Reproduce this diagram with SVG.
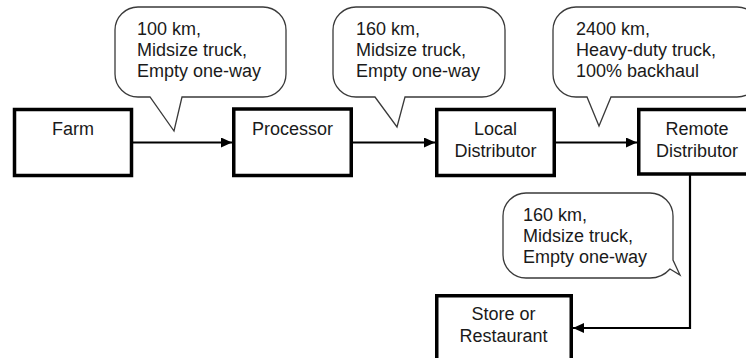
<svg xmlns="http://www.w3.org/2000/svg" width="746" height="358" viewBox="0 0 746 358">
  <defs>
    <style>
      .box { fill: #fff; stroke: #000; stroke-width: 3.5; }
      .bubble { fill: #fff; stroke: #3a3a3a; stroke-width: 1.3; stroke-linejoin: miter; }
      .conn { fill: none; stroke: #000; stroke-width: 2.2; }
      text { font-family: "Liberation Sans", Arial, sans-serif; font-size: 18px; fill: #1a1a1a; }
      .c { text-anchor: middle; }
    </style>
    <marker id="arrow" markerWidth="11" markerHeight="10" refX="11" refY="5" orient="auto" markerUnits="userSpaceOnUse">
      <path d="M0,0 L11,5 L0,10 Z" fill="#000"/>
    </marker>
  </defs>
  <rect width="746" height="358" fill="#fff"/>

  <g id="connectors">
    <path class="conn" d="M133,142.5 H232" marker-end="url(#arrow)"/>
    <path class="conn" d="M353,142.5 H435" marker-end="url(#arrow)"/>
    <path class="conn" d="M556,142.5 H637" marker-end="url(#arrow)"/>
    <path class="conn" d="M690,175 V328 H573" marker-end="url(#arrow)"/>
  </g>

  <g id="farm">
    <rect class="box" x="14.5" y="109.5" width="117" height="66"/>
    <text class="c" x="73" y="135">Farm</text>
  </g>
  <g id="processor">
    <rect class="box" x="233.75" y="109" width="117.5" height="66.5"/>
    <text class="c" x="292.5" y="135">Processor</text>
  </g>
  <g id="local-distributor">
    <rect class="box" x="436.75" y="109.5" width="117.5" height="66"/>
    <text class="c" x="495.5" y="135">Local</text>
    <text class="c" x="495.5" y="157">Distributor</text>
  </g>
  <g id="remote-distributor">
    <rect class="box" x="638.75" y="109.5" width="120" height="64.5"/>
    <text class="c" x="697" y="135">Remote</text>
    <text class="c" x="697" y="157">Distributor</text>
  </g>
  <g id="store-restaurant">
    <rect class="box" x="436.75" y="295.75" width="134.5" height="80"/>
    <text class="c" x="503.5" y="320">Store or</text>
    <text class="c" x="503.5" y="342">Restaurant</text>
  </g>

  <g id="callout-1">
    <path class="bubble" d="M138,7 H263 A23,23 0 0 1 286,30 V74 A23,23 0 0 1 263,97 H182 L174,131 L150,97 H138 A23,23 0 0 1 115,74 V30 A23,23 0 0 1 138,7 Z"/>
    <text x="137" y="35">100 km,</text>
    <text x="137" y="56">Midsize truck,</text>
    <text x="137" y="77">Empty one-way</text>
  </g>
  <g id="callout-2">
    <path class="bubble" d="M356,7 H482 A23,23 0 0 1 505,30 V74 A23,23 0 0 1 482,97 H405 L397,127 L375,97 H356 A23,23 0 0 1 333,74 V30 A23,23 0 0 1 356,7 Z"/>
    <text x="356" y="35">160 km,</text>
    <text x="356" y="56">Midsize truck,</text>
    <text x="356" y="77">Empty one-way</text>
  </g>
  <g id="callout-3">
    <path class="bubble" d="M576,7 H737 A23,23 0 0 1 760,30 V74 A23,23 0 0 1 737,97 H611 L599,126 L587,97 H576 A23,23 0 0 1 553,74 V30 A23,23 0 0 1 576,7 Z"/>
    <text x="576" y="35">2400 km,</text>
    <text x="576" y="56">Heavy-duty truck,</text>
    <text x="576" y="77">100% backhaul</text>
  </g>
  <g id="callout-4">
    <path class="bubble" d="M526,193 H650 A23,23 0 0 1 673,216 V260 L680,275 L670,269 Q662,278 650,278 H526 A23,23 0 0 1 503,255 V216 A23,23 0 0 1 526,193 Z"/>
    <text x="523" y="221">160 km,</text>
    <text x="523" y="242">Midsize truck,</text>
    <text x="523" y="263">Empty one-way</text>
  </g>
</svg>
